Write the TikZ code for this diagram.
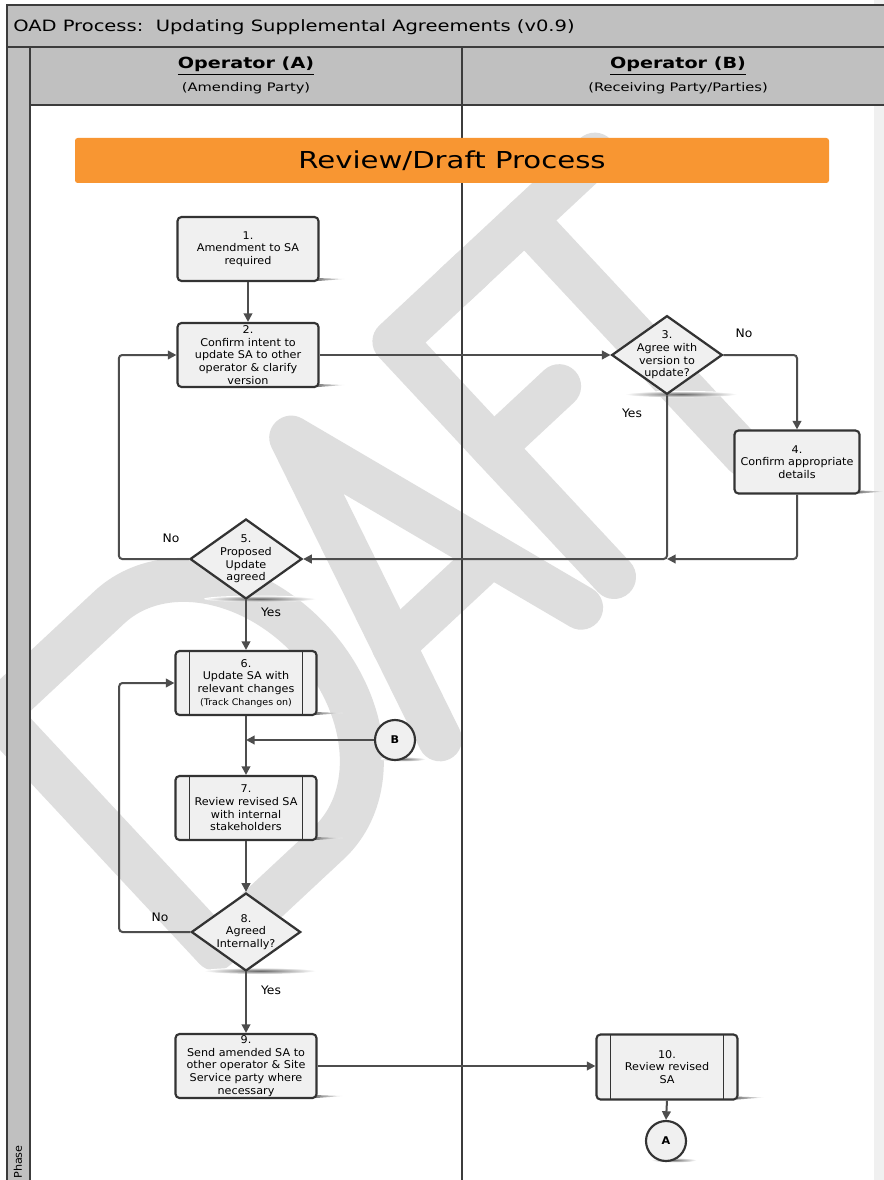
\documentclass[tikz,border=0pt]{standalone}
\usepackage{fontspec}
\setmainfont{DejaVu Sans}[FakeStretch=1.05]
\newfontfamily\headfont{DejaVu Sans}[FakeStretch=1.25]
\usetikzlibrary{shapes.geometric,arrows.meta,positioning}
\definecolor{lanegray}{RGB}{192,192,192}
\definecolor{framedark}{RGB}{60,60,60}
\definecolor{boxfill}{RGB}{240,240,240}
\definecolor{boxline}{RGB}{51,51,51}
\definecolor{flowgray}{RGB}{77,77,77}
\definecolor{oadorange}{RGB}{248,150,50}
\definecolor{wmgray}{RGB}{222,222,222}
\pgfdeclarelayer{paper}
\pgfdeclarelayer{shadows}
\pgfsetlayers{paper,shadows,main}

\tikzset{
  procbox/.style={rectangle, rounded corners=3pt, draw=boxline, line width=1.6pt, fill=boxfill,
    minimum width=105.75pt, minimum height=48pt, inner sep=0pt, align=center,
    font=\fontsize{8}{9.5}\selectfont},
  subproc/.style={procbox, path picture={
    \draw[boxline, line width=1.3pt] ([xshift=10.5pt]path picture bounding box.north west) -- ([xshift=10.5pt]path picture bounding box.south west);
    \draw[boxline, line width=1.3pt] ([xshift=-10.5pt]path picture bounding box.north east) -- ([xshift=-10.5pt]path picture bounding box.south east);}},
  decision/.style={diamond, draw=boxline, line width=1.7pt, fill=boxfill,
    minimum width=83pt, minimum height=59pt, inner sep=0pt},
  dtext/.style={align=center, inner sep=0pt, font=\fontsize{8}{9.5}\selectfont},
  offpage/.style={circle, draw=boxline, line width=1.6pt, fill=boxfill, minimum size=30pt,
    inner sep=0pt, font=\fontsize{8}{9}\selectfont\bfseries},
  flow/.style={draw=flowgray, line width=1.5pt, rounded corners=2.5pt, -{Triangle[length=6.5pt,width=6.5pt]}},
  answer/.style={inner sep=0pt, font=\fontsize{8.8}{10}\selectfont},
  frameline/.style={draw=framedark, line width=1.6pt},
  wmstroke/.style={draw=wmgray, line width=33pt, line cap=round, line join=round},
}

\begin{document}
\begin{tikzpicture}[x=0.75pt, y=-0.75pt]
\useasboundingbox (0,0) rectangle (884,1180);

% swimlane background and watermark
\begin{pgfonlayer}{paper}
  \fill[white] (0,0) rectangle (884,1180);
  \fill[black!6] (874,0) rectangle (884,1180);
  \begin{scope}
    \clip (0,0) rectangle (884,1180);
    \begin{scope}[shift={(614,577)}, rotate=43, x=0.75pt, y=0.75pt]
      % D
      \draw[wmstroke] (-545,0) -- (-545,322) -- (-390,322) arc[start angle=90, end angle=-90, x radius=125, y radius=161] -- cycle;
      % A
      \draw[wmstroke] (-238,0) -- (-141,322) -- (-45,0);
      \draw[wmstroke] (-208,100) -- (-75,100);
      % F
      \draw[wmstroke] (105,322) -- (0,322) -- (0,0);
      \draw[wmstroke] (0,177) -- (90,177);
      % T
      \draw[wmstroke] (84,322) -- (274,322);
      \draw[wmstroke] (179,322) -- (179,0);
    \end{scope}
  \end{scope}
  \fill[lanegray] (7,5) rectangle (884,105);
  \fill[lanegray] (7,105) rectangle (30,1180);
\end{pgfonlayer}

\draw[frameline] (884,5) -- (7,5) -- (7,1180);
\draw[frameline] (7,47) -- (884,47);
\draw[frameline] (30,47) -- (30,1180);
\draw[frameline] (30,105) -- (884,105);
\draw[frameline] (462,47) -- (462,1180);

\node[anchor=west, inner sep=0pt, font=\headfont\fontsize{11.7}{14}\selectfont] (title) at (13,27) {OAD Process:\ \ Updating Supplemental Agreements (v0.9)};
\node[font=\headfont\bfseries\fontsize{11.5}{13}\selectfont] (laneA) at (246,66) {\underline{Operator (A)}};
\node[font=\headfont\fontsize{8.8}{10}\selectfont] (partyA) at (246,88) {(Amending Party)};
\node[font=\headfont\bfseries\fontsize{11.5}{13}\selectfont] (laneB) at (678,66) {\underline{Operator (B)}};
\node[font=\headfont\fontsize{8.8}{10}\selectfont] (partyB) at (678,88) {(Receiving Party/Parties)};
\node[rotate=90, font=\fontsize{8}{9}\selectfont] (phaselbl) at (18,1162) {Phase};

\node[fill=oadorange, rounded corners=2pt, minimum width=565.5pt, minimum height=33.75pt, inner sep=0pt,
  font=\headfont\fontsize{17.5}{20}\selectfont] (phase) at (452,160.5) {Review/Draft Process};

% steps
\node[procbox] (n1) at (248,249) {1.\\Amendment to SA\\required};
\node[procbox] (n2) at (248,355) {2.\\Confirm intent to\\update SA to other\\operator \& clarify\\version};
\node[decision, label={[dtext]center:{3.\\Agree with\\version to\\update?}}] (d3) at (667,355) {};
\node[procbox, minimum width=93.75pt, minimum height=47.25pt] (n4) at (797,462) {4.\\Confirm appropriate\\details};
\node[decision, minimum width=84pt, minimum height=60pt, label={[dtext]center:{5.\\Proposed\\Update\\agreed}}] (d5) at (246,559) {};
\node[subproc] (n6) at (246,683) {6.\\Update SA with\\relevant changes\\{\fontsize{6.8}{8}\selectfont(Track Changes on)}};
\node[offpage] (cB) at (395,740) {B};
\node[subproc] (n7) at (246,808) {7.\\Review revised SA\\with internal\\stakeholders};
\node[decision, minimum width=82pt, minimum height=58.5pt, label={[dtext]center:{8.\\Agreed\\Internally?}}] (d8) at (246,932) {};
\node[procbox] (n9) at (246,1066) {9.\\Send amended SA to\\other operator \& Site\\Service party where\\necessary};
\node[subproc, minimum height=48.75pt] (n10) at (667,1067) {10.\\Review revised\\SA};
\node[offpage] (cA) at (666,1141) {A};

% answers
\node[answer] (no3) at (744,333) {No};
\node[answer] (yes3) at (632,413) {Yes};
\node[answer] (no5) at (171,538) {No};
\node[answer] (yes5) at (271,612) {Yes};
\node[answer] (no8) at (160,917) {No};
\node[answer] (yes8) at (271,990) {Yes};

% shadows
\begin{pgfonlayer}{shadows}
  \foreach \n in {n1,n2,n4,n6,n7,n9,n10}
    \shade[left color=black!50, right color=white] ([xshift=-1pt,yshift=3pt]\n.south east) -- ([xshift=19pt,yshift=2.3pt]\n.south east) -- ([xshift=-1pt,yshift=0.8pt]\n.south east) -- cycle;
  \foreach \n in {d3,d5,d8}
    \shade[inner color=black!60, outer color=white] ([xshift=10.5pt,yshift=1pt]\n.south) ellipse[x radius=42pt, y radius=2.4pt];
  \foreach \n in {cA,cB}
    \shade[inner color=black!55, outer color=white] ([xshift=6pt,yshift=1.5pt]\n.south) ellipse[x radius=17pt, y radius=1.8pt];
\end{pgfonlayer}

% flow
\draw[flow] (n1) -- (n2);
\draw[flow] (n2.east) -- (d3.west);
\draw[flow] (d3.east) -| (n4.north);
\draw[flow] (d3.south) |- (d5.east);
\draw[flow] (n4.south) |- (d3.south |- d5.east);
\draw[flow] (d5.west) -- ++(-70,0) |- (n2.west);
\draw[flow] (d5.south) -- (n6.north);
\draw[flow] (n6.south) -- (n7.north);
\draw[flow] (cB.west) -- (cB.west -| n6.south);
\draw[flow] (n7.south) -- (d8.north);
\draw[flow] (d8.west) -- ++(-71,0) |- (n6.west);
\draw[flow] (d8.south) -- (n9.north);
\draw[flow] (n9.east) -- (n9.east -| n10.west);
\draw[flow] (n10.south) -- (cA.north);
\end{tikzpicture}
\end{document}
